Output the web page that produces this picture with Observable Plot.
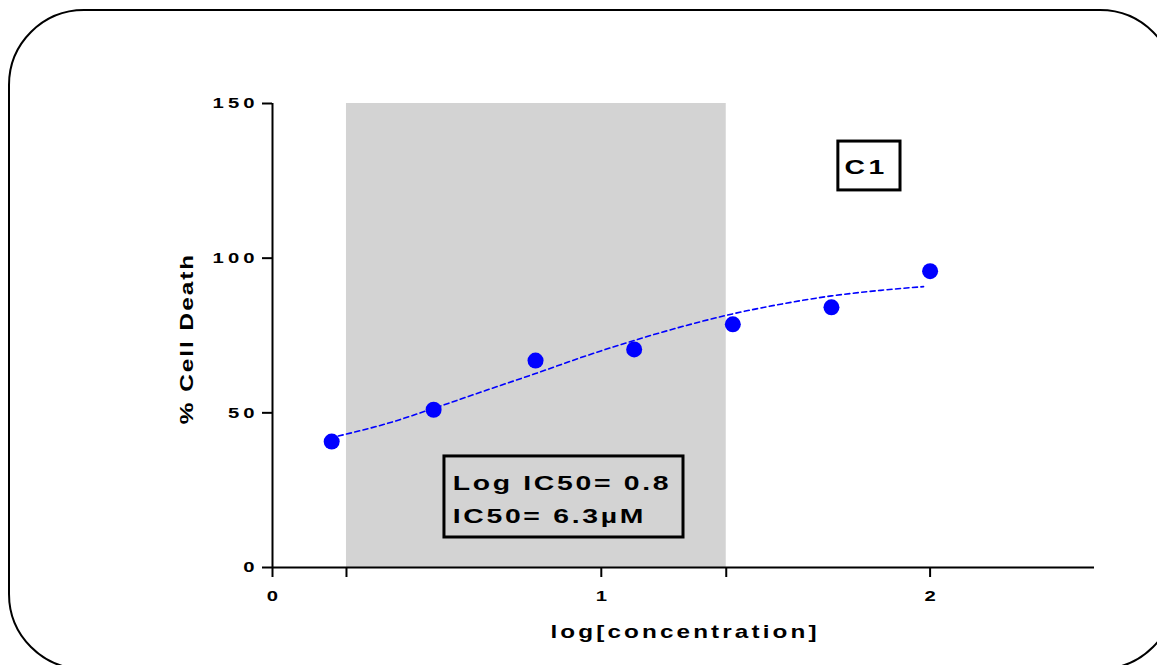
<!DOCTYPE html>
<html>
<head>
<meta charset="utf-8">
<script src="https://cdn.jsdelivr.net/npm/d3@7"></script>
<script src="https://cdn.jsdelivr.net/npm/@observablehq/plot@0.6"></script>
<style>
  html, body { margin: 0; padding: 0; background: #fff; }
  #chart svg { display: block; }
</style>
</head>
<body>
<div id="chart"></div>
<script>
// Data points (log concentration vs % cell death)
const logConc = [0.18, 0.49, 0.8, 1.1, 1.4, 1.7, 2.0];
const cellDeath = [40.7, 51.0, 66.9, 70.5, 78.6, 84.1, 95.8];

// Fitted curve
const fitX = [0.2, 0.35, 0.5, 0.65, 0.8, 0.95, 1.1, 1.25, 1.4, 1.55, 1.7, 1.85, 1.98];
const fitY = [42.5, 46.6, 51.8, 57.3, 62.7, 68.3, 73.4, 78.0, 82.0, 85.2, 87.8, 89.6, 90.8];

// Shaded range
const shadeFrom = [0.225];
const shadeTo = [1.38];

// Ticks
const yTicks = [0, 50, 100, 150];
const xTickValues = [0, 0.225, 1, 1.38, 2];
const xTickLabels = ["0", "", "1", "", "2"];

// Texts
const icLines = ["Log IC50= 0.8", "IC50= 6.3\u00b5M"];
const panelLabel = ["C1"];
const yTitle = ["% Cell Death"];
const xTitle = ["log[concentration]"];

const points = logConc.map((x, i) => ({x, y: cellDeath[i]}));
const fit = fitX.map((x, i) => ({x, y: fitY[i]}));
const shade = shadeFrom.map((a, i) => ({x1: a, x2: shadeTo[i]}));

const FONT = "Liberation Sans, Arial, sans-serif";

const plot = Plot.plot({
  width: 1157,
  height: 665,
  marginLeft: 272,
  marginRight: 63,
  marginTop: 103,
  marginBottom: 98,
  style: {fontFamily: FONT, fontWeight: "bold", fontSize: "15px", background: "#fff", color: "#000"},
  x: {domain: [0, 2.5]},
  y: {domain: [0, 150]},
  marks: [
    Plot.rect(shade, {x1: "x1", x2: "x2", y1: 0, y2: 150, fill: "#d3d3d3"}),
    Plot.ruleX([0], {y1: 0, y2: 150, stroke: "#000", strokeWidth: 2}),
    Plot.ruleY([0], {x1: 0, x2: 2.5, stroke: "#000", strokeWidth: 2}),
    Plot.axisY({ticks: yTicks, tickSize: 10, tickPadding: 4, strokeWidth: 2, label: null, tickFormat: d => String(d), fontSize: 15, fontWeight: "bold"}),
    Plot.axisX({ticks: xTickValues, tickSize: 10, tickPadding: 13, strokeWidth: 2, label: null,
      tickFormat: d => xTickLabels[xTickValues.indexOf(d)], fontSize: 15, fontWeight: "bold"}),
    Plot.line(fit, {x: "x", y: "y", stroke: "#0000ff", strokeWidth: 1.6, strokeDasharray: "5,3.5", curve: "monotone-x"}),
    Plot.dot(points, {x: "x", y: "y", r: 8, fill: "#0000ff", stroke: "none"}),
    Plot.rect([0], {x1: 0.523, x2: 1.25, y1: 9.7, y2: 35.9, fill: "none", stroke: "#000", strokeWidth: 3}),
    Plot.text(icLines, {x: 0.548, y: (d, i) => [27.3, 16.6][i], text: d => d, textAnchor: "start", fontSize: 21, fontWeight: "bold", fill: "#000"}),
    Plot.rect([0], {x1: 1.721, x2: 1.91, y1: 121.9, y2: 137.7, fill: "none", stroke: "#000", strokeWidth: 3}),
    Plot.text(panelLabel, {x: 1.8, y: 129.5, text: d => d, fontSize: 21, fontWeight: "bold", fill: "#000"}),
    Plot.text(yTitle, {frameAnchor: "left", textAnchor: "middle", dx: -85, dy: 4, rotate: -90, text: d => d, fontSize: 18, fontWeight: "bold", fill: "#000"}),
    Plot.text(xTitle, {frameAnchor: "bottom", dy: 70, text: d => d, fontSize: 18, fontWeight: "bold", fill: "#000"})
  ]
});

// Rounded outer border
d3.select(plot).append("rect")
  .attr("x", 9).attr("y", 10).attr("width", 1166).attr("height", 659)
  .attr("rx", 75).attr("ry", 75)
  .attr("fill", "none").attr("stroke", "#000").attr("stroke-width", 2);

document.getElementById("chart").appendChild(plot);

// Letter spacing per text, then stretch glyphs horizontally along the baseline
const spacing = new Map([
  ...yTicks.map(v => [String(v), 3]),
  ...xTickLabels.map(v => [v, 3]),
  [icLines[0], 2], [icLines[1], 2],
  [panelLabel[0], 2.5],
  [yTitle[0], 1.5],
  [xTitle[0], 2.3]
]);
const SX = 1.35;
d3.select(plot).selectAll("text").each(function() {
  const ls = spacing.get(this.textContent);
  if (ls != null) this.style.letterSpacing = ls + "px";
});
d3.select(plot).selectAll("text").each(function() {
  const bb = this.getBBox();
  const anchor = getComputedStyle(this).textAnchor;
  const ls = parseFloat(this.style.letterSpacing) || 0;
  let ax;
  if (anchor === "end") ax = bb.x + bb.width;
  else if (anchor === "middle") ax = bb.x + bb.width / 2;
  else ax = bb.x;
  const T = this.getAttribute("transform") || "";
  this.setAttribute("transform", `${T} translate(${ax},0) scale(${SX},1) translate(${-ax},0)`.trim());
  // compensate trailing letter-space so ink stays centred
  if (anchor === "middle" && ls) this.setAttribute("transform", this.getAttribute("transform") + ` translate(${ls / 2},0)`);
});
</script>
</body>
</html>
